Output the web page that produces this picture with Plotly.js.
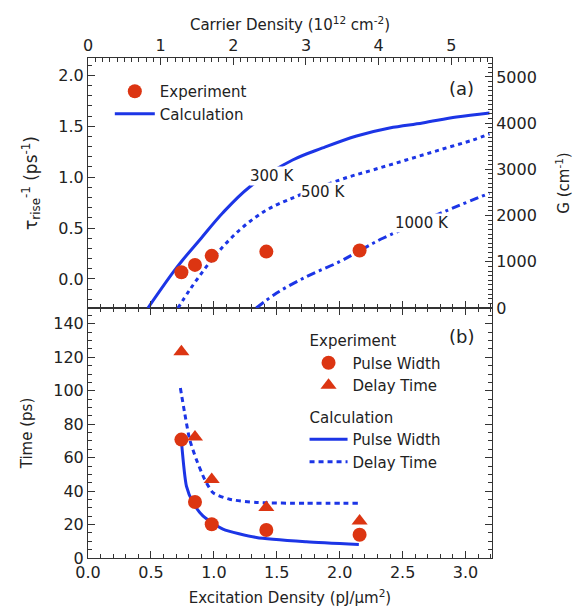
<!DOCTYPE html>
<html><head><meta charset="utf-8">
<script src="https://cdn.plot.ly/plotly-3.0.1.min.js"></script>
<style>body{margin:0;background:#fff}#chart{width:577px;height:610px}</style>
</head><body><div id="chart"></div>
<script>
// Experimental data (excitation density in pJ/um^2)
const expExcitation = [0.742, 0.850, 0.983, 1.417, 2.158];
const expRiseRate   = [0.066, 0.138, 0.227, 0.269, 0.279];
const expPulseWidth = [70.8, 33.5, 20.2, 16.7, 13.9];
const expDelayTime  = [123.4, 72.4, 47.0, 30.2, 22.2];

// Calculated gain G (cm^-1) vs carrier density (10^12 cm^-2)
const g300Density  = [0.825, 1.165, 1.303, 1.537, 1.853, 2.224, 2.816, 3.228, 3.696, 4.150, 4.604, 5.072, 5.525];
const g300Gain     = [0, 758, 1039, 1472, 2056, 2619, 3203, 3463, 3723, 3896, 4004, 4134, 4221];
const g500Density  = [1.238, 1.399, 1.629, 1.857, 2.087, 2.316, 2.545, 3.462, 3.920, 4.380, 4.838, 5.296, 5.525];
const g500Gain     = [0, 390, 894, 1327, 1688, 1976, 2193, 2771, 2987, 3203, 3420, 3636, 3766];
const g1000Density = [2.316, 2.591, 3.004, 3.462, 3.738, 4.058, 5.067, 5.525];
const g1000Gain    = [0, 318, 677, 1002, 1240, 1509, 2193, 2483];

// Calculated times (ps) vs excitation density
const calcPulseExc   = [0.742, 0.782, 0.834, 0.913, 1.072, 1.338, 1.735, 2.152];
const calcPulseWidth = [70.0, 43.0, 33.2, 25.2, 17.3, 12.3, 9.7, 8.0];
const calcDelayExc   = [0.734, 0.768, 0.808, 0.861, 0.927, 0.993, 1.125, 1.338, 1.735, 2.145];
const calcDelayTime  = [101.6, 86.7, 70.8, 58.9, 47.0, 39.1, 35.1, 33.2, 32.7, 32.7];

const RED = '#dc3512';
const BLUE = '#1c35e6';
const FONT = 'DejaVu Sans, sans-serif';

const traces = [
  {x: g300Density, y: g300Gain, xaxis: 'x2', yaxis: 'y2', mode: 'lines', name: 'Calculation',
   line: {color: BLUE, width: 3, shape: 'spline', smoothing: 1}, legend: 'legend2', legendrank: 2},
  {x: g500Density, y: g500Gain, xaxis: 'x2', yaxis: 'y2', mode: 'lines', showlegend: false,
   line: {color: BLUE, width: 3, dash: '4px,4px', shape: 'spline', smoothing: 1}},
  {x: g1000Density, y: g1000Gain, xaxis: 'x2', yaxis: 'y2', mode: 'lines', showlegend: false,
   line: {color: BLUE, width: 3, dash: '9px,4px,3px,4px', shape: 'spline', smoothing: 1}},
  {x: expExcitation, y: expRiseRate, xaxis: 'x3', yaxis: 'y3', mode: 'markers', name: 'Experiment',
   marker: {color: RED, size: 14, symbol: 'circle'}, legend: 'legend2', legendrank: 1},
  {x: calcPulseExc, y: calcPulseWidth, xaxis: 'x', yaxis: 'y', mode: 'lines', name: 'Pulse Width',
   line: {color: BLUE, width: 3, shape: 'spline', smoothing: 0.6},
   legendgroup: 'calc', legendgrouptitle: {text: 'Calculation', font: {size: 15, family: FONT, color: '#222'}}, legendrank: 3},
  {x: calcDelayExc, y: calcDelayTime, xaxis: 'x', yaxis: 'y', mode: 'lines', name: 'Delay Time',
   line: {color: BLUE, width: 3, dash: '5px,4px', shape: 'spline', smoothing: 0.6},
   legendgroup: 'calc', legendrank: 4},
  {x: expExcitation, y: expPulseWidth, xaxis: 'x', yaxis: 'y', mode: 'markers', name: 'Pulse Width',
   marker: {color: RED, size: 14, symbol: 'circle'},
   legendgroup: 'exp', legendgrouptitle: {text: 'Experiment', font: {size: 15, family: FONT, color: '#222'}}, legendrank: 1},
  {x: expExcitation, y: expDelayTime, xaxis: 'x', yaxis: 'y', mode: 'markers', name: 'Delay Time',
   marker: {color: RED, size: 14, symbol: 'triangle-up'},
   legendgroup: 'exp', legendrank: 2}
];

const axCommon = {
  showline: true, linecolor: '#333', linewidth: 1, ticks: 'inside', ticklen: 7, tickcolor: '#333',
  showgrid: false, zeroline: false, tickfont: {size: 16, family: FONT, color: '#222'}
};
const minor = (d) => ({ticks: 'inside', ticklen: 4, dtick: d, tickcolor: '#333', showgrid: false});

const layout = {
  width: 577, height: 610,
  margin: {l: 88, r: 85, t: 58, b: 52},
  paper_bgcolor: '#fff', plot_bgcolor: '#fff',
  font: {family: FONT, color: '#222', size: 15},
  xaxis: Object.assign({}, axCommon, {domain: [0, 1], anchor: 'y', range: [0, 3.21], dtick: 0.5, tickformat: '.1f',
    mirror: 'ticks', minor: minor(0.1),
    title: {text: 'Excitation Density (pJ/\u03bcm<sup>2</sup>)', font: {size: 15, family: FONT}, standoff: 11}}),
  yaxis: Object.assign({}, axCommon, {domain: [0, 0.5], anchor: 'x', range: [0, 149.5], dtick: 20,
    mirror: 'ticks', minor: minor(5),
    title: {text: 'Time (ps)', font: {size: 15, family: FONT}, standoff: 17}}),
  xaxis2: Object.assign({}, axCommon, {domain: [0, 1], anchor: 'y2', side: 'top', range: [0, 5.56], dtick: 1,
    minor: minor(0.1),
    title: {text: 'Carrier Density (10<sup>12</sup> cm<sup>-2</sup>)', font: {size: 15, family: FONT}, standoff: 1}}),
  yaxis2: Object.assign({}, axCommon, {domain: [0.5, 1], anchor: 'x2', side: 'right', range: [0, 5410], dtick: 1000,
    minor: minor(100),
    title: {text: 'G (cm<sup>-1</sup>)', font: {size: 15, family: FONT}, standoff: 22}}),
  xaxis3: Object.assign({}, axCommon, {overlaying: 'x2', anchor: 'y2', side: 'bottom', range: [0, 3.21], dtick: 0.5,
    showticklabels: false, minor: minor(0.1)}),
  yaxis3: Object.assign({}, axCommon, {overlaying: 'y2', anchor: 'x2', side: 'left', range: [-0.285, 2.17], dtick: 0.5,
    tickformat: '.1f', minor: minor(0.1),
    title: {text: '\u03c4<sub>rise</sub><sup>-1</sup> (ps<sup>-1</sup>)', font: {size: 17, family: FONT}, standoff: 16}}),
  legend: {x: 0.536, y: 0.468, xanchor: 'left', yanchor: 'top', bgcolor: 'rgba(0,0,0,0)', borderwidth: 0,
    traceorder: 'grouped', tracegroupgap: 9, itemwidth: 38, font: {size: 15, family: FONT, color: '#222'}},
  legend2: {x: 0.054, y: 0.966, xanchor: 'left', yanchor: 'top', bgcolor: 'rgba(0,0,0,0)', borderwidth: 0,
    traceorder: 'normal', itemwidth: 40, tracegroupgap: 0, font: {size: 15, family: FONT, color: '#222'}},
  annotations: [
    {xref: 'paper', yref: 'paper', x: 0.924, y: 0.94, xanchor: 'center', yanchor: 'middle', text: '(a)', showarrow: false, font: {size: 18, family: FONT, color: '#222'}},
    {xref: 'paper', yref: 'paper', x: 0.924, y: 0.4426, xanchor: 'center', yanchor: 'middle', text: '(b)', showarrow: false, font: {size: 18, family: FONT, color: '#222'}},
    {xref: 'x2', yref: 'y2', x: 2.536, y: 2857, xanchor: 'center', yanchor: 'middle', text: '300 K', showarrow: false, bgcolor: '#fff', borderpad: 0, font: {size: 15, family: FONT, color: '#222'}},
    {xref: 'x2', yref: 'y2', x: 3.232, y: 2517, xanchor: 'center', yanchor: 'middle', text: '500 K', showarrow: false, bgcolor: '#fff', borderpad: 0, font: {size: 15, family: FONT, color: '#222'}},
    {xref: 'x2', yref: 'y2', x: 4.600, y: 1833, xanchor: 'center', yanchor: 'middle', text: '1000 K', showarrow: false, bgcolor: '#fff', borderpad: 0, font: {size: 15, family: FONT, color: '#222'}}
  ],
  showlegend: true
};

Plotly.newPlot('chart', traces, layout, {displayModeBar: false, staticPlot: true});
</script>
</body></html>
